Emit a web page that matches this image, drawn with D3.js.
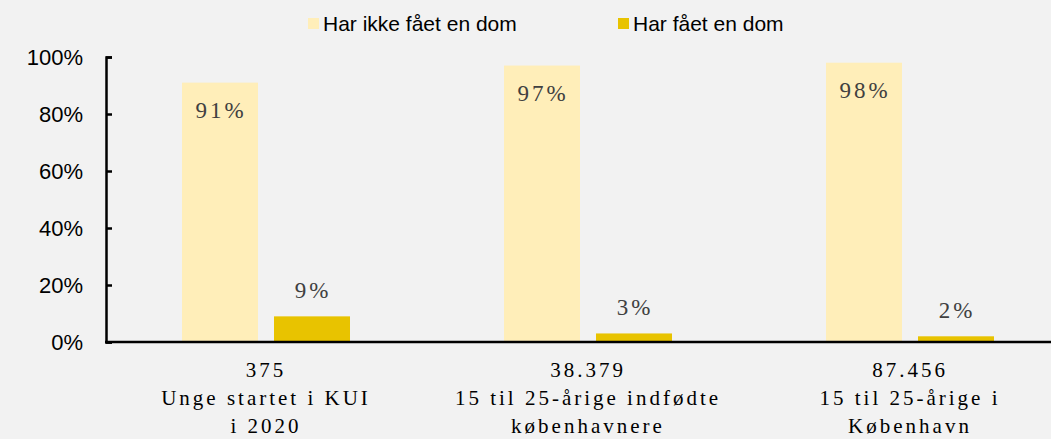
<!DOCTYPE html>
<html>
<head>
<meta charset="utf-8">
<script src="https://cdn.jsdelivr.net/npm/d3@7"></script>
<style>
  body { margin: 0; background: #f2f2f2; }
  svg { display: block; }
</style>
</head>
<body>
<div id="chart"></div>
<script>
// data
const groups = ["g1", "g2", "g3"];
const groupLabels = [
  ["375", "Unge startet i KUI", "i 2020"],
  ["38.379", "15 til 25-årige indfødte", "københavnere"],
  ["87.456", "15 til 25-årige i", "København"]
];
const seriesNames = ["Har ikke fået en dom", "Har fået en dom"];
const notConvicted = [0.91, 0.97, 0.98];
const convicted = [0.09, 0.03, 0.02];
const yTicks = [0, 0.2, 0.4, 0.6, 0.8, 1];

const width = 1051, height = 439;
const colors = ["#ffeeb9", "#e8c300"];

const svg = d3.select("#chart").append("svg")
    .attr("width", width)
    .attr("height", height);

svg.append("rect").attr("width", width).attr("height", height).attr("fill", "#f2f2f2");

const x = d3.scaleBand().domain(groups).range([105, 1071]);
const xs = d3.scaleBand().domain([0, 1]).range([0, x.bandwidth()]).paddingInner(0.174).paddingOuter(0.837);
const y = d3.scaleLinear().domain([0, 1]).range([342, 57]);

// y axis
const yAxis = svg.append("g")
    .attr("transform", "translate(106,0)")
    .call(d3.axisRight(y).tickValues(yTicks).tickSize(6).tickFormat(""));
yAxis.select(".domain").attr("stroke", "#000").attr("stroke-width", 2.5);
yAxis.selectAll(".tick line").attr("stroke", "#000").attr("stroke-width", 2.5);

svg.append("g").selectAll("text")
  .data(yTicks)
  .join("text")
    .attr("x", 83)
    .attr("y", d => y(d) + 8)
    .attr("text-anchor", "end")
    .attr("font-family", "Liberation Sans, Arial, sans-serif")
    .attr("font-size", 22)
    .attr("fill", "#000")
    .text(d => d3.format(".0%")(d));

// bars
const series = [notConvicted, convicted];
series.forEach((vals, si) => {
  svg.append("g").selectAll("rect")
    .data(vals)
    .join("rect")
      .attr("x", (d, i) => x(groups[i]) + xs(si))
      .attr("width", xs.bandwidth())
      .attr("y", d => y(d))
      .attr("height", d => y(0) - y(d))
      .attr("fill", colors[si]);

  svg.append("g").selectAll("text")
    .data(vals)
    .join("text")
      .attr("x", (d, i) => x(groups[i]) + xs(si) + xs.bandwidth() / 2 + 1)
      .attr("y", d => si === 0 ? y(d) + 35 : y(d) - 18)
      .attr("text-anchor", "middle")
      .attr("font-family", "Liberation Serif, Times New Roman, serif")
      .attr("font-size", 23)
      .attr("letter-spacing", 3)
      .attr("fill", "#404040")
      .text(d => d3.format(".0%")(d));
});

// x axis line
svg.append("line")
    .attr("x1", 105).attr("x2", width)
    .attr("y1", y(0)).attr("y2", y(0))
    .attr("stroke", "#000").attr("stroke-width", 2.5);

// category labels
groups.forEach((g, i) => {
  svg.append("text")
    .attr("x", x(g) + x.bandwidth() / 2)
    .attr("y", 377)
    .attr("text-anchor", "middle")
    .attr("font-family", "Liberation Serif, Times New Roman, serif")
    .attr("font-size", 21)
    .attr("letter-spacing", 3)
    .attr("fill", "#000")
    .selectAll("tspan")
    .data(groupLabels[i])
    .join("tspan")
      .attr("x", x(g) + x.bandwidth() / 2)
      .attr("dy", (d, j) => j === 0 ? 0 : 28)
      .text(d => d);
});

// legend
const legendX = [308, 618];
seriesNames.forEach((name, i) => {
  svg.append("rect")
    .attr("x", legendX[i]).attr("y", 18)
    .attr("width", 11).attr("height", 11)
    .attr("fill", colors[i]);
  svg.append("text")
    .attr("x", legendX[i] + 15)
    .attr("y", 31)
    .attr("font-family", "Liberation Sans, Arial, sans-serif")
    .attr("font-size", 21)
    .attr("fill", "#000")
    .text(name);
});
</script>
</body>
</html>
